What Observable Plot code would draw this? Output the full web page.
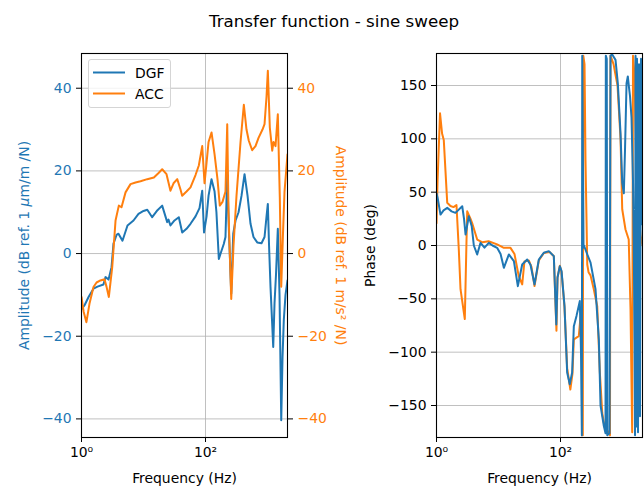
<!DOCTYPE html>
<html><head><meta charset="utf-8">
<script src="https://cdn.jsdelivr.net/npm/d3@7"></script>
<script src="https://cdn.jsdelivr.net/npm/@observablehq/plot@0.6"></script>
<style>
body{margin:0;background:#fff;}
#wrap{position:relative;width:644px;height:488px;font-family:"DejaVu Sans",sans-serif;overflow:hidden;}
#title{position:absolute;left:0;width:668px;top:11px;line-height:20px;text-align:center;font-size:16.7px;color:#000;}
#left{position:absolute;left:0;top:0;}
#right{position:absolute;left:350px;top:0;}
#legend{position:absolute;left:88px;top:59px;width:81px;height:47px;border:1px solid #d5d5d5;border-radius:3px;background:rgba(255,255,255,0.8);}
#legend svg{position:absolute;left:0;top:0;}
</style></head>
<body>
<div id="wrap">
  <div id="title">Transfer function - sine sweep</div>
  <div id="left"></div>
  <div id="right"></div>
  <div id="legend"></div>
</div>
<script>
// ---- data: [frequency (Hz), value] ----
const dgfAmp = [[1.0,-13.5],[1.12,-12.5],[1.30,-10.5],[1.56,-8.5],[1.81,-8],[2.26,-7.5],[2.44,-5.7],[2.73,-6.3],[3.05,-3.3],[3.28,2.4],[3.67,4.5],[3.95,4.8],[4.58,3.1],[5.52,6.8],[6.9,8],[8.3,9.6],[10,10.3],[11.5,10.6],[13.8,8.8],[16.8,10.5],[20,11.6],[24.1,7.6],[25.3,8.2],[27.2,6.8],[31.6,8],[37.1,8.8],[42.1,5.1],[49.4,6],[57.3,7.2],[69,9],[80,11],[88.5,15.2],[94.6,5.1],[104,9],[112,14],[125,18],[140,15],[150,10],[164,-1.3],[175,0],[197,2.3],[210,4],[224,19.2],[239,5],[260,-9.7],[280,4.8],[305,8],[341,10],[381,14],[426,19.2],[476,14],[532,7.2],[594,4],[682,2.7],[800,2.5],[895,4],[964,9],[1012,12],[1058,2],[1117,-8],[1236,-22.6],[1297,-12],[1371,-5],[1466,6],[1562,-10],[1664,-40.3],[1746,-25],[1832,-16],[1950,-10],[2100,-6.5]];
const accAmp = [[1.0,-10.5],[1.08,-14],[1.2,-16.6],[1.35,-12],[1.56,-8.1],[1.75,-7],[2.02,-6.5],[2.35,-6.2],[2.53,-8],[2.76,-10.5],[3.13,-3.3],[3.54,8],[4.0,11.6],[4.42,11.2],[5.13,14.8],[6.17,16.8],[7.43,17.2],[8.95,17.5],[11.5,18],[14.7,18.4],[17.5,19.5],[20,20.4],[23.5,19.2],[27.2,15.2],[30.5,17],[35,18],[39.5,15.5],[42,14],[49.4,15],[57.3,16],[69,19],[78,21.3],[88.5,26],[96.4,17],[104,22],[112,27],[125,29.3],[140,24],[156,18],[170,11.6],[188,12.5],[210,15],[224,31.3],[235,10],[260,-11],[283,2],[316,14],[367,27],[415,36],[458,30],[499,27.3],[566,25],[640,26],[716,28],[830,30],[895,31.3],[964,38],[1012,44.2],[1089,30.5],[1191,24.9],[1250,27],[1346,26],[1466,33.7],[1578,13.6],[1664,-8],[1778,5],[1880,15],[2100,24]];
const dgfPhase = [[1.0,49],[1.04,45],[1.16,29],[1.30,33],[1.49,35.3],[1.75,32],[2.02,30.6],[2.6,36.8],[2.78,25],[2.94,10.3],[3.32,27.4],[3.7,18],[4.0,0],[4.53,-8.4],[5.13,2.5],[5.94,-2],[6.98,2.5],[8.0,0],[9.5,-2.2],[10.8,-8],[12.2,-20.9],[14.7,-8.4],[17.7,-14.7],[20.5,-38.1],[24.1,-17.8],[29,-13.1],[32.8,-18],[38.1,-36.5],[44.7,-13.1],[53.8,-6.8],[64.8,-5.3],[78,-10],[85.5,-74],[89.5,-30],[97.5,-19.4],[104,-24],[116,-56.8],[128,-119],[141,-130],[154,-119],[164,-75.6],[181,-66],[205,-52],[214,-100],[221,-178],[224,178],[235,-2],[239,0],[270,-8.4],[305,-16],[367,-41],[415,-88],[442,-150],[499,-169],[532,-176],[538,178],[557,175],[568,-178],[617,-176],[640,178],[682,179],[771,174],[840,152],[929,105],[989,58.7],[1050,49],[1097,90],[1161,152],[1217,158.5],[1273,148],[1321,140],[1396,120],[1476,60],[1520,0],[1562,-90],[1592,-178],[1622,178],[1652,-170],[1714,175],[1778,-175],[1845,170],[1914,-160],[1986,175],[2065,20],[2100,40]];
const accPhase = [[1.0,21],[1.04,60],[1.14,124],[1.23,105],[1.31,99],[1.49,40],[1.68,37],[1.88,36],[2.1,38],[2.29,-4],[2.44,-41],[2.86,-69],[3.05,5.6],[3.13,32],[3.54,25],[3.81,20],[4.53,5.6],[5.52,3],[6.9,4],[9.5,1],[12,-2],[15.6,-2.2],[18.1,-8],[21.2,-28.7],[24.1,-36.5],[26.2,-15],[30.8,-14],[34,-20],[38.1,-38],[44.7,-14],[53.8,-7],[66.5,-6],[78,-10],[86,-80],[89.5,-30],[97.5,-19],[104,-25],[116,-58],[128,-115],[144,-135],[156,-120],[164,-88],[197,-85],[218,-57],[229,-178],[233,178],[244,170],[253,80],[270,-17.8],[283,-25],[305,-28],[341,-40],[391,-57],[431,-119],[471,-157],[513,-170],[594,-175],[628,-178],[640,178],[716,170],[830,150],[929,100],[989,34],[1117,15],[1259,5.6],[1346,-60],[1432,-175],[1476,178],[1562,160],[1622,110],[1682,60],[1746,20],[1812,30],[1950,10],[2100,0]];

const seriesNames = ["DGF","ACC"];
const seriesColors = ["#1f77b4","#ff7f0e"];
const xTicks = [1,100];
const xTickLabels = ["10\u2070","10\u00b2"];
const ampTicks = [-40,-20,0,20,40];
const phaseTicks = [-150,-100,-50,0,50,100,150];
const titleText = "Transfer function - sine sweep";
const xLabel = "Frequency (Hz)";
const ampLabelLeft = "Amplitude (dB ref. 1 \u03bcm/m /N)";
const ampLabelRight = "Amplitude (dB ref. 1 m/s\u00b2 /N)";
const phaseLabel = "Phase (deg)";

const blue = seriesColors[0], orange = seriesColors[1];
const FS = 13.9;
const gridStyle = {stroke:"#b0b0b0", strokeOpacity:1, strokeWidth:0.8};
const fmt = d3.format("d");
const style = {fontFamily:"DejaVu Sans", fontSize:FS+"px", background:"transparent", color:"black", overflow:"visible"};
const xdomain = [1,2100];

function xMarks() {
  return [
    Plot.axisX(xTicks, {tickSize:5, tickPadding:5, tickFormat:(d)=>xTickLabels[xTicks.indexOf(d)], label:null, fontSize:FS}),
    Plot.text([xLabel], {text:d=>d, frameAnchor:"bottom", dy:45, fontSize:FS})
  ];
}

const left = Plot.plot({
  width:350, height:488, marginLeft:81, marginRight:63, marginTop:53, marginBottom:51,
  style,
  x:{type:"log", domain:xdomain},
  y:{domain:[-44.5,48.4]},
  marks:[
    Plot.gridY(ampTicks, gridStyle),
    Plot.gridX(xTicks, gridStyle),
    Plot.line(dgfAmp, {x:d=>d[0], y:d=>d[1], stroke:blue, strokeWidth:2, clip:true}),
    Plot.line(accAmp, {x:d=>d[0], y:d=>d[1], stroke:orange, strokeWidth:2, clip:true}),
    Plot.frame({stroke:"black", strokeWidth:1.1}),
    Plot.axisY(ampTicks, {tickSize:5, tickFormat:()=>"", label:null}),
    Plot.axisY(ampTicks, {tickSize:0, tickPadding:10, tickFormat:fmt, color:blue, label:null, fontSize:FS}),
    Plot.axisY(ampTicks, {anchor:"right", tickSize:5, tickFormat:()=>"", label:null}),
    Plot.axisY(ampTicks, {anchor:"right", tickSize:0, tickPadding:10, tickFormat:fmt, color:orange, label:null, fontSize:FS}),
    ...xMarks(),
    Plot.text([ampLabelLeft], {text:d=>d, frameAnchor:"left", textAnchor:"middle", rotate:-90, dx:-57, fill:blue, fontSize:FS}),
    Plot.text([ampLabelRight], {text:d=>d, frameAnchor:"right", textAnchor:"middle", rotate:90, dx:53, fill:orange, fontSize:FS})
  ]
});

const right = Plot.plot({
  width:294, height:488, marginLeft:86, marginRight:2, marginTop:53, marginBottom:51,
  style,
  x:{type:"log", domain:xdomain},
  y:{domain:[-180,180]},
  marks:[
    Plot.gridY(phaseTicks, gridStyle),
    Plot.gridX(xTicks, gridStyle),
    Plot.line(accPhase, {x:d=>d[0], y:d=>d[1], stroke:orange, strokeWidth:2, clip:true}),
    Plot.line(dgfPhase, {x:d=>d[0], y:d=>d[1], stroke:blue, strokeWidth:2, clip:true}),
    Plot.frame({stroke:"black", strokeWidth:1.1}),
    Plot.axisY(phaseTicks, {tickSize:5, tickPadding:5, tickFormat:fmt, label:null, fontSize:FS}),
    ...xMarks(),
    Plot.text([phaseLabel], {text:d=>d, frameAnchor:"left", textAnchor:"middle", rotate:-90, dx:-66, fontSize:FS})
  ]
});

document.getElementById("left").appendChild(left);
document.getElementById("right").appendChild(right);
document.getElementById("title").textContent = titleText;

// italic mu, as in the mathtext label
d3.select(left).selectAll("text").each(function(){
  const t = this.textContent;
  if (t === ampLabelLeft) {
    const i = t.indexOf("\u03bc");
    const sel = d3.select(this);
    sel.text(null);
    sel.append("tspan").text(t.slice(0,i));
    sel.append("tspan").attr("font-style","italic").text("\u03bc");
    sel.append("tspan").text(t.slice(i+1));
  }
});

// legend
const lg = d3.select("#legend").append("svg").attr("width",82).attr("height",48)
  .attr("font-family","DejaVu Sans").attr("font-size",FS);
seriesNames.forEach((name,i)=>{
  const y = 12.5 + i*21;
  lg.append("line").attr("x1",4).attr("x2",36).attr("y1",y).attr("y2",y)
    .attr("stroke",seriesColors[i]).attr("stroke-width",2);
  lg.append("text").attr("x",46).attr("y",y+5).attr("fill","#000").text(name);
});
</script>
</body></html>
